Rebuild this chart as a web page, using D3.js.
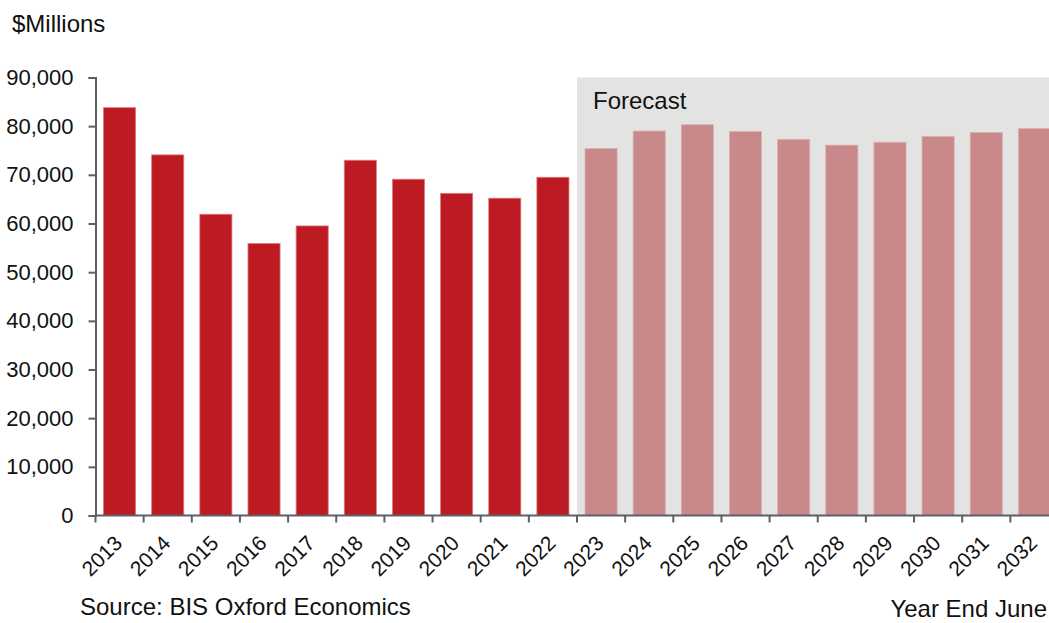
<!DOCTYPE html>
<html>
<head>
<meta charset="utf-8">
<script src="https://cdn.jsdelivr.net/npm/d3@7"></script>
<style>
  html, body { margin: 0; padding: 0; background: #fff; }
  svg { display: block; font-family: "Liberation Sans", Arial, sans-serif; }
</style>
</head>
<body>
<svg id="chart" width="1049" height="623"></svg>
<script>
// Annual values, $ millions, year ending June
const years = ["2013","2014","2015","2016","2017","2018","2019","2020","2021","2022",
               "2023","2024","2025","2026","2027","2028","2029","2030","2031","2032"];
const values = [83800, 74100, 61900, 55900, 59500, 73000, 69100, 66200, 65200, 69500,
                75400, 79000, 80300, 78900, 77300, 76100, 76700, 77900, 78700, 79500];
const forecastYears = ["2023","2024","2025","2026","2027","2028","2029","2030","2031","2032"];
const yTicks = [0, 10000, 20000, 30000, 40000, 50000, 60000, 70000, 80000, 90000];

const svg = d3.select("#chart");
const plotLeft = 95.5, plotRight = 1058.5, plotTop = 77.5, plotBottom = 515.5;

const x = d3.scaleBand().domain(years).range([plotLeft, plotRight]).paddingInner(1/3).paddingOuter(1/6);
const y = d3.scaleLinear().domain([0, 90000]).range([plotBottom, plotTop]);
const step = x.step();
const axisColor = "#5b6068";
const textColor = "#111";

// Forecast shading
const f0 = x(forecastYears[0]) - step * x.paddingInner() / 2;
svg.append("rect")
  .attr("x", f0).attr("y", y(90000))
  .attr("width", plotRight - f0).attr("height", y(0) - y(90000))
  .attr("fill", "#e3e3e2");

svg.append("text")
  .attr("x", f0 + 16).attr("y", y(90000) + 31)
  .attr("font-size", 24).attr("fill", textColor)
  .text("Forecast");

// Bars
const isForecast = d => forecastYears.includes(d);
svg.append("g").selectAll("rect")
  .data(years.map((yr, i) => ({ yr, v: values[i] })))
  .join("rect")
  .attr("x", d => x(d.yr))
  .attr("y", d => y(d.v))
  .attr("width", x.bandwidth())
  .attr("height", d => y(0) - y(d.v))
  .attr("fill", d => isForecast(d.yr) ? "#c9888a" : "#bd1b23")
  .attr("stroke", d => isForecast(d.yr) ? "#dcb0b1" : "#e07a80")
  .attr("stroke-width", 0.8);

// Y axis
const yAxis = svg.append("g")
  .attr("transform", `translate(${plotLeft},0)`)
  .call(d3.axisLeft(y).tickValues(yTicks).tickFormat(d3.format(",")).tickSize(7).tickPadding(15));
yAxis.select(".domain").attr("stroke", axisColor).attr("stroke-width", 2);
yAxis.selectAll(".tick line").attr("stroke", axisColor).attr("stroke-width", 2);
yAxis.selectAll(".tick text").attr("font-size", 22).attr("fill", textColor)
  .attr("font-family", "Liberation Sans, Arial, sans-serif");

// X axis: ticks at category boundaries
const xg = svg.append("g");
xg.append("line")
  .attr("x1", plotLeft).attr("x2", plotRight).attr("y1", plotBottom).attr("y2", plotBottom)
  .attr("stroke", axisColor).attr("stroke-width", 2);
xg.selectAll("line.tk")
  .data(years)
  .join("line")
  .attr("class", "tk")
  .attr("x1", d => x(d) - step * x.paddingInner() / 2)
  .attr("x2", d => x(d) - step * x.paddingInner() / 2)
  .attr("y1", plotBottom).attr("y2", plotBottom + 7)
  .attr("stroke", axisColor).attr("stroke-width", 2);
xg.selectAll("text")
  .data(years)
  .join("text")
  .attr("transform", d => `translate(${x(d) + x.bandwidth() / 2 + 4},${plotBottom + 29}) rotate(-45)`)
  .attr("text-anchor", "end")
  .attr("font-size", 21).attr("fill", textColor)
  .text(d => d);

// Titles and notes
svg.append("text").attr("x", 12).attr("y", 32).attr("font-size", 24).attr("fill", textColor).text("$Millions");
svg.append("text").attr("x", 80).attr("y", 615).attr("font-size", 24).attr("fill", textColor).text("Source: BIS Oxford Economics");
svg.append("text").attr("x", 1047).attr("y", 617).attr("text-anchor", "end").attr("font-size", 24).attr("fill", textColor).text("Year End June");
</script>
</body>
</html>
